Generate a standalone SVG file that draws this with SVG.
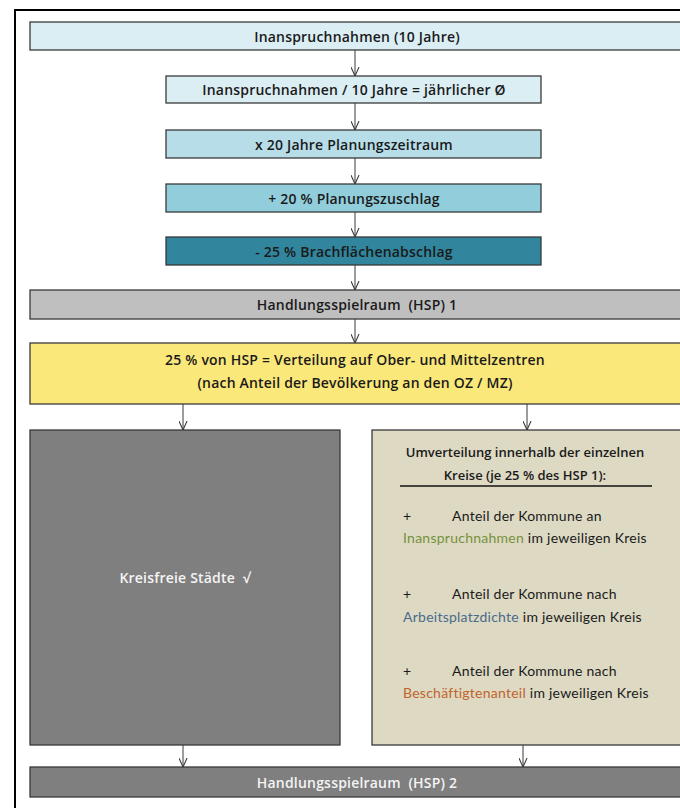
<svg xmlns="http://www.w3.org/2000/svg" width="680" height="808" viewBox="0 0 680 808">
<style>
.box{stroke:#3a3a3a;stroke-width:1.3}
.t{font-family:"Open Sans",Lato,"Liberation Sans",sans-serif;font-size:14px;font-weight:600;fill:#1a1a1a;text-anchor:middle;letter-spacing:0.2px}
.w{fill:#f4f4f4}
.r{font-family:Lato,"Liberation Sans",sans-serif;font-size:14px;fill:#1a1a1a;letter-spacing:0.25px}
.rb{font-family:"Open Sans",Lato,"Liberation Sans",sans-serif;font-size:13px;font-weight:600;fill:#1a1a1a;text-anchor:middle}
.con{stroke:#3a3a3a;stroke-width:1;fill:none}
</style>
<defs>
<marker id="ah" viewBox="0 0 10 10" refX="10" refY="5" markerWidth="9" markerHeight="9" markerUnits="userSpaceOnUse" orient="auto">
<path d="M0,0.5 L10,5 L0,9.5" fill="none" stroke="#3a3a3a" stroke-width="1.2"/>
</marker>
</defs>
<rect width="680" height="808" fill="#ffffff"/>
<rect x="15" y="10" width="700" height="830" fill="none" stroke="#000" stroke-width="2"/>

<g id="connectors" class="con">
<line x1="355" y1="50" x2="355" y2="76" marker-end="url(#ah)"/>
<line x1="355" y1="103" x2="355" y2="130" marker-end="url(#ah)"/>
<line x1="355" y1="158" x2="355" y2="184" marker-end="url(#ah)"/>
<line x1="355" y1="212" x2="355" y2="237" marker-end="url(#ah)"/>
<line x1="355" y1="265" x2="355" y2="290" marker-end="url(#ah)"/>
<line x1="355" y1="319" x2="355" y2="343" marker-end="url(#ah)"/>
<line x1="183" y1="404" x2="183" y2="430" marker-end="url(#ah)"/>
<line x1="527" y1="404" x2="527" y2="430" marker-end="url(#ah)"/>
<line x1="183" y1="745" x2="183" y2="767" marker-end="url(#ah)"/>
<line x1="523" y1="745" x2="523" y2="767" marker-end="url(#ah)"/>
</g>

<g id="n1"><rect class="box" x="30" y="22" width="660" height="28" fill="#DAEEF3"/><text class="t" x="357" y="41.5">Inanspruchnahmen (10 Jahre)</text></g>
<g id="n2"><rect class="box" x="166" y="76" width="375" height="27" fill="#DAEEF3"/><text class="t" x="354" y="95">Inanspruchnahmen / 10 Jahre = jährlicher Ø</text></g>
<g id="n3"><rect class="box" x="166" y="130" width="375" height="28" fill="#B7DEE8"/><text class="t" x="354" y="149.5">x 20 Jahre Planungszeitraum</text></g>
<g id="n4"><rect class="box" x="166" y="184" width="375" height="28" fill="#92CDDC"/><text class="t" x="354" y="203.5">+ 20 % Planungszuschlag</text></g>
<g id="n5"><rect class="box" x="166" y="237" width="375" height="28" fill="#31859C"/><text class="t" x="354" y="256.5">- 25 % Brachflächenabschlag</text></g>
<g id="n6"><rect class="box" x="30" y="290" width="660" height="29" fill="#BFBFBF"/><text class="t" x="357" y="310" xml:space="preserve">Handlungsspielraum  (HSP) 1</text></g>
<g id="n7"><rect class="box" x="30" y="343" width="660" height="61" fill="#FBE87B"/>
<text class="t" x="355" y="364.5">25 % von HSP = Verteilung auf Ober- und Mittelzentren</text>
<text class="t" x="355" y="387.5">(nach Anteil der Bevölkerung an den OZ / MZ)</text></g>
<g id="n8"><rect class="box" x="30" y="430" width="310" height="315" fill="#7F7F7F"/><text class="t w" x="185" y="583" xml:space="preserve">Kreisfreie Städte  √</text></g>
<g id="n9"><rect class="box" x="372" y="430" width="320" height="315" fill="#DDD9C3"/>
<text class="rb" x="525" y="457">Umverteilung innerhalb der einzelnen</text>
<text class="rb" x="525" y="480">Kreise (je 25 % des HSP 1):</text>
<line x1="400" y1="486" x2="652" y2="486" stroke="#111" stroke-width="1.5"/>
<text class="r" x="403" y="521">+</text><text class="r" x="452" y="521">Anteil der Kommune an</text>
<text class="r" x="403" y="543"><tspan fill="#76923C">Inanspruchnahmen</tspan> im jeweiligen Kreis</text>
<text class="r" x="403" y="599">+</text><text class="r" x="452" y="599">Anteil der Kommune nach</text>
<text class="r" x="403" y="622"><tspan fill="#4A6B8C">Arbeitsplatzdichte</tspan> im jeweiligen Kreis</text>
<text class="r" x="403" y="676">+</text><text class="r" x="452" y="676">Anteil der Kommune nach</text>
<text class="r" x="403" y="698"><tspan fill="#C0642C">Beschäftigtenanteil</tspan> im jeweiligen Kreis</text>
</g>
<g id="n10"><rect class="box" x="30" y="767" width="660" height="30" fill="#7F7F7F"/><text class="t w" x="357" y="787.5" xml:space="preserve">Handlungsspielraum  (HSP) 2</text></g>
</svg>
